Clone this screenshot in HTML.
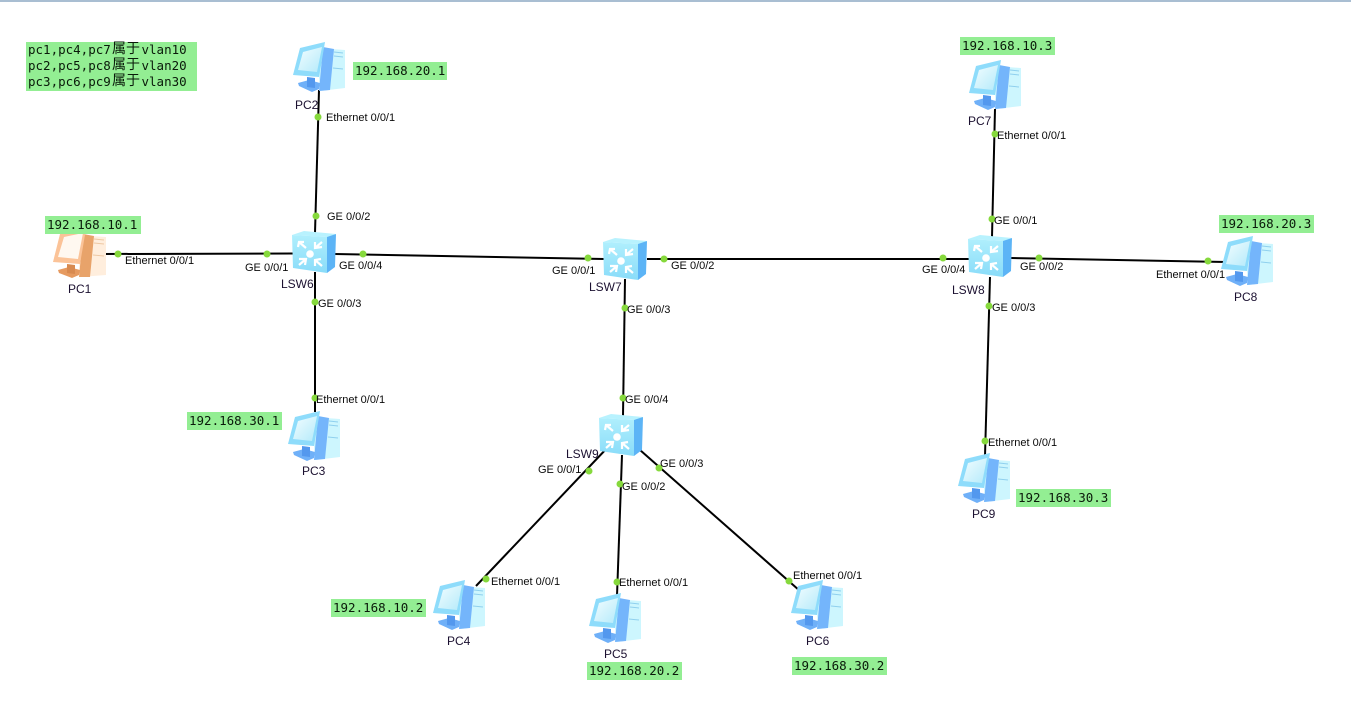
<!DOCTYPE html>
<html><head><meta charset="utf-8"><style>
html,body{margin:0;padding:0;background:#fff;width:1351px;height:703px;overflow:hidden}
svg{display:block}
.l{font:11px "Liberation Sans",sans-serif;fill:#0a0a0a}
.n{font:12px "Liberation Sans",sans-serif;fill:#1b1030}
.m{font:12.5px "DejaVu Sans Mono","Liberation Mono","Noto Sans CJK SC",monospace;fill:#0a1a0a}
.k{font:14px "Noto Sans CJK SC",sans-serif;fill:#0a1a0a}
.b{fill:#93ee93}
.c{stroke:#000;stroke-width:2;fill:none}
.d{fill:#86d93c}
</style></head><body>
<svg width="1351" height="703" viewBox="0 0 1351 703" xmlns="http://www.w3.org/2000/svg">
<defs>
<linearGradient id="gsc" x1="0" y1="0" x2="1" y2="1"><stop offset="0" stop-color="#f2fdff"/><stop offset="1" stop-color="#b4eafa"/></linearGradient>
<linearGradient id="gsw" x1="0" y1="0" x2="0" y2="1"><stop offset="0" stop-color="#b0effd"/><stop offset="1" stop-color="#8adcf9"/></linearGradient>
<symbol id="pc" width="52" height="51" overflow="visible">
<path d="M24 6 L52 8 L52 46 L27 49 Z" fill="#cdf6fe"/>
<path d="M30 5 L41 7 L37 48 L26 49 Z" fill="#74b5fb"/>
<path d="M41 10 L50 11 M41 14 L50 15 M40 26 L50 27" stroke="#8fd0ee" stroke-width="1"/>
<path d="M5 41 L16 38 L27 41 L26 47 L19 50 L6 44 Z" fill="#6fb0f8"/>
<path d="M14 35 L22 36 L22 46 L14 45 Z" fill="#5398ee"/>
<path d="M7 6 L32 0 L26 35 L0 33 Z" fill="#8edcfb"/>
<path d="M10 10 L29 5 L24 30 L5 28 Z" fill="url(#gsc)"/>
</symbol>
<symbol id="pco" width="54" height="50" overflow="visible">
<path d="M24 6 L53 8 L53 46 L27 48 Z" fill="#ffeedd"/>
<path d="M30 5 L41 7 L37 48 L26 48 Z" fill="#e8a36a"/>
<path d="M41 10 L51 11 M41 14 L51 15 M40 26 L51 27" stroke="#eec8a4" stroke-width="1"/>
<path d="M5 41 L16 38 L27 41 L26 46 L19 49 L6 44 Z" fill="#e69a60"/>
<path d="M14 35 L22 36 L22 45 L14 44 Z" fill="#d88a50"/>
<path d="M7 5 L33 0 L27 35 L0 33 Z" fill="#fbc398"/>
<path d="M11 8 L30 4 L25 30 L5 28 Z" fill="#fff8f0"/>
</symbol>
<symbol id="swi" width="44" height="42" overflow="visible">
<path d="M35 5 L44 3 L43 36 L35 42 Z" fill="#5cb4f6"/>
<path d="M0 4 L12 0 L44 3 L35 6 Z" fill="#b8f2fe"/>
<path d="M0 4 L35 6 L35 42 L1 37 Z" fill="url(#gsw)"/>
<circle cx="18" cy="23" r="3.800" fill="#fff"/>
<g stroke="#fff" stroke-width="2.200" fill="none">
<path d="M7 11 L14 17 M6 16 L7 11 L12 11"/>
<path d="M30 11 L23 17 M30 16 L23 17 L23 11"/>
<path d="M7 34 L14 28 M7 28 L14 28 L13 34"/>
<path d="M30 35 L23 29 M23 35 L23 29 L29 28"/>
</g>
</symbol>
</defs>
<rect x="0" y="0" width="1351" height="2" fill="#a9bed2"/>

<g class="c">
<path d="M319 90 L315 233"/>
<path d="M104 254 L293 253.500"/>
<path d="M335 254 L604 259"/>
<path d="M647 259 L969 259"/>
<path d="M315 272 L315 412"/>
<path d="M625 279 L623 416"/>
<path d="M609 446 L476 586"/>
<path d="M622 455 L617 596"/>
<path d="M640 450 L800 591"/>
<path d="M995 109 L992 237"/>
<path d="M1011 258 L1226 262"/>
<path d="M990 277 L985 456"/>
</g>

<use href="#pc" x="293" y="42"/>
<use href="#pco" x="53" y="229"/>
<use href="#pc" x="288" y="411"/>
<use href="#pc" x="433" y="580"/>
<use href="#pc" x="589" y="593"/>
<use href="#pc" x="791" y="580"/>
<use href="#pc" x="969" y="60"/>
<use href="#pc" x="1221" y="236"/>
<use href="#pc" x="958" y="453"/>
<use href="#swi" x="292" y="231"/>
<use href="#swi" x="603" y="238"/>
<use href="#swi" x="968" y="235"/>
<use href="#swi" x="599" y="414"/>

<g class="d">
<circle cx="318" cy="117" r="3.500"/><circle cx="316" cy="216" r="3.500"/>
<circle cx="118" cy="254" r="3.500"/><circle cx="267" cy="254" r="3.500"/>
<circle cx="363" cy="254" r="3.500"/><circle cx="588" cy="258" r="3.500"/>
<circle cx="664" cy="259" r="3.500"/><circle cx="943" cy="258" r="3.500"/>
<circle cx="315" cy="302" r="3.500"/><circle cx="315" cy="398" r="3.500"/>
<circle cx="625" cy="308" r="3.500"/><circle cx="623" cy="398" r="3.500"/>
<circle cx="589" cy="471" r="3.500"/><circle cx="486" cy="579" r="3.500"/>
<circle cx="620" cy="484" r="3.500"/><circle cx="617" cy="582" r="3.500"/>
<circle cx="659" cy="468" r="3.500"/><circle cx="789" cy="581" r="3.500"/>
<circle cx="995" cy="134" r="3.500"/><circle cx="992" cy="219" r="3.500"/>
<circle cx="1039" cy="258" r="3.500"/><circle cx="1208" cy="261" r="3.500"/>
<circle cx="989" cy="306" r="3.500"/><circle cx="985" cy="441" r="3.500"/>
</g>

<g class="l">
<text x="326" y="121">Ethernet 0/0/1</text>
<text x="327" y="220">GE 0/0/2</text>
<text x="125" y="264">Ethernet 0/0/1</text>
<text x="245" y="271">GE 0/0/1</text>
<text x="339" y="269">GE 0/0/4</text>
<text x="318" y="307">GE 0/0/3</text>
<text x="316" y="403">Ethernet 0/0/1</text>
<text x="552" y="274">GE 0/0/1</text>
<text x="671" y="269">GE 0/0/2</text>
<text x="627" y="313">GE 0/0/3</text>
<text x="625" y="403">GE 0/0/4</text>
<text x="538" y="473">GE 0/0/1</text>
<text x="622" y="490">GE 0/0/2</text>
<text x="660" y="467">GE 0/0/3</text>
<text x="491" y="585">Ethernet 0/0/1</text>
<text x="619" y="586">Ethernet 0/0/1</text>
<text x="793" y="579">Ethernet 0/0/1</text>
<text x="922" y="273">GE 0/0/4</text>
<text x="1020" y="270">GE 0/0/2</text>
<text x="992" y="311">GE 0/0/3</text>
<text x="994" y="224">GE 0/0/1</text>
<text x="997" y="139">Ethernet 0/0/1</text>
<text x="1156" y="278">Ethernet 0/0/1</text>
<text x="988" y="446">Ethernet 0/0/1</text>
</g>
<g class="n">
<text x="295" y="109">PC2</text>
<text x="68" y="293">PC1</text>
<text x="302" y="475">PC3</text>
<text x="447" y="645">PC4</text>
<text x="604" y="658">PC5</text>
<text x="806" y="645">PC6</text>
<text x="968" y="125">PC7</text>
<text x="1234" y="301">PC8</text>
<text x="972" y="518">PC9</text>
<text x="281" y="288">LSW6</text>
<text x="589" y="291">LSW7</text>
<text x="952" y="294">LSW8</text>
<text x="566" y="458">LSW9</text>
</g>

<rect class="b" x="26" y="42" width="171" height="49"/>
<g class="m">
<text x="28" y="54">pc1,pc4,pc7<tspan class="k" x="112" y="53">属于</tspan><tspan x="141.500" y="54">vlan10</tspan></text>
<text x="28" y="70">pc2,pc5,pc8<tspan class="k" x="112" y="69">属于</tspan><tspan x="141.500" y="70">vlan20</tspan></text>
<text x="28" y="86">pc3,pc6,pc9<tspan class="k" x="112" y="85">属于</tspan><tspan x="141.500" y="86">vlan30</tspan></text>
</g>
<g class="b">
<rect x="45" y="216" width="96" height="18"/>
<rect x="353" y="62" width="94" height="18"/>
<rect x="960" y="37" width="95" height="18"/>
<rect x="1219" y="215" width="95" height="18"/>
<rect x="187" y="412" width="95" height="18"/>
<rect x="1016" y="489" width="95" height="18"/>
<rect x="331" y="599" width="95" height="18"/>
<rect x="587" y="662" width="95" height="18"/>
<rect x="792" y="657" width="95" height="18"/>
</g>
<g class="m">
<text x="47" y="229">192.168.10.1</text>
<text x="355" y="75">192.168.20.1</text>
<text x="962" y="50">192.168.10.3</text>
<text x="1221" y="228">192.168.20.3</text>
<text x="189" y="425">192.168.30.1</text>
<text x="1018" y="502">192.168.30.3</text>
<text x="333" y="612">192.168.10.2</text>
<text x="589" y="675">192.168.20.2</text>
<text x="794" y="670">192.168.30.2</text>
</g>
</svg>
</body></html>
